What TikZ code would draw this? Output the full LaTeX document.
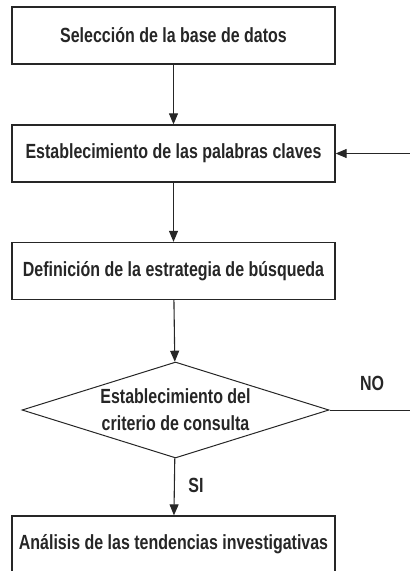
\documentclass[tikz,border=0pt]{standalone}
\usepackage{fontspec}
\setmainfont[FakeStretch=0.78]{Liberation Sans}
\usetikzlibrary{arrows.meta,shapes.geometric}
\definecolor{tinta}{HTML}{262626}
\tikzset{
  paso/.style={draw=tinta, line width=1.3pt, minimum width=323pt, minimum height=57pt,
    inner sep=0pt, text=tinta, font=\bfseries\fontsize{20.5}{27}\selectfont},
  decision/.style={paso, diamond, line width=1pt, shape aspect=3.2, minimum width=307pt,
    minimum height=96pt, align=center},
  flecha/.style={draw=tinta, line width=1.1pt, -{Triangle[width=9pt,length=11pt]}},
  rotulo/.style={text=tinta, font=\bfseries\fontsize{20.5}{24}\selectfont}
}
\begin{document}
\begin{tikzpicture}[x=1pt, y=-1pt]
\useasboundingbox (0,0) rectangle (410,571);
\clip (0,0) rectangle (410,571);
% Pasos
\node[paso] (seleccion) at (173.5,35.5) {Selección de la base de datos};
\node[paso] (palabras) at (173.5,153.5) {Establecimiento de las palabras claves};
\node[paso] (estrategia) at (173.5,271) {Definición de la estrategia de búsqueda};
\node[decision] (criterio) at (175.5,410) {Establecimiento del\\criterio de consulta};
\node[paso] (analisis) at (173.5,544.5) {Análisis de las tendencias investigativas};
% Retorno
\coordinate (borde) at (410,153.5);
\coordinate (salida) at (410,410);
% Conexiones
\draw[flecha] (seleccion) -- (palabras);
\draw[flecha] (palabras) -- (estrategia);
\draw[flecha] (estrategia) -- (criterio);
\draw[flecha] (criterio) -- (analisis);
\draw[flecha] (borde) -- (palabras);
\draw[draw=tinta, line width=1pt] (criterio.east) -- (salida);
% Rotulos
\node[rotulo] (no) at (372,383) {NO};
\node[rotulo] (si) at (196,485) {SI};
\end{tikzpicture}
\end{document}
